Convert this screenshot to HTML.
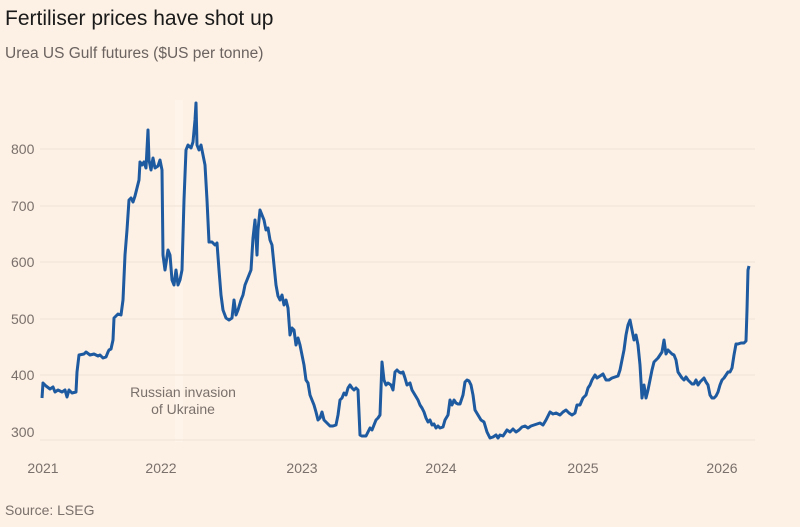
<!DOCTYPE html>
<html><head><style>
body{margin:0;background:#fdf0e4;}
svg{display:block;font-family:"Liberation Sans",sans-serif;}
</style></head><body>
<svg width="800" height="527" viewBox="0 0 800 527">
<rect width="800" height="527" fill="#fdf0e4"/>
<text x="5" y="25" font-size="21" fill="#1a1a1a">Fertiliser prices have shot up</text>
<text x="5" y="58" font-size="15.5" fill="#6b6360">Urea US Gulf futures ($US per tonne)</text>
<rect x="175" y="100" width="8" height="342" fill="#fff4ea"/>
<g stroke="#efe2d6" stroke-width="1">
<line x1="40" x2="755" y1="149" y2="149"/><line x1="40" x2="755" y1="206" y2="206"/>
<line x1="40" x2="755" y1="262" y2="262"/><line x1="40" x2="755" y1="319" y2="319"/>
<line x1="40" x2="755" y1="375" y2="375"/><line x1="40" x2="755" y1="440" y2="440"/>
</g>
<g font-size="14" fill="#7a716c">
<text x="11" y="154">800</text><text x="11" y="211">700</text><text x="11" y="267">600</text>
<text x="11" y="324">500</text><text x="11" y="380">400</text><text x="11" y="437">300</text>
<g text-anchor="middle">
<text x="43" y="473">2021</text><text x="161" y="473">2022</text><text x="302" y="473">2023</text>
<text x="441" y="473">2024</text><text x="583" y="473">2025</text><text x="722" y="473">2026</text>
<text x="183" y="397">Russian invasion</text><text x="183" y="414">of Ukraine</text>
</g>
<text x="5" y="515">Source: LSEG</text>
</g>
<polyline fill="none" stroke="#1d5aa0" stroke-width="3" stroke-linejoin="round" points="42,398 43,383 46,386 50,389 53,387 55,392 58,390 62,392 65,390 67,397 69,390 72,393 76,392 77,372 79,355 84,354 86,352 90,355 94,354 98,356 100,355 103,358 106,357 108,352 109,350 111,349 113,340 114,318 118,314 121,315 123,300 125,255 127,230 129,200 131,198 133,202 135,196 137,188 139,180 140,162 142,165 144,162 146,168 148,130 149,160 151,170 153,158 155,168 158,166 160,160 162,170 163,255 165,270 168,250 170,255 172,280 174,285 176,270 178,285 180,280 182,270 184,200 186,150 188,145 191,148 193,142 195,120 196,103 197,145 199,150 201,145 203,155 205,165 207,200 209,242 212,242 215,245 217,243 219,270 221,295 223,310 226,318 229,320 232,318 234,300 236,315 238,310 241,300 243,295 245,285 247,280 249,275 251,270 253,238 255,220 257,255 258,230 260,210 262,215 264,220 266,230 268,228 270,240 272,245 274,265 276,285 278,296 280,300 282,295 284,305 286,300 288,308 290,335 292,328 294,330 296,345 298,338 300,345 302,355 304,365 306,380 308,383 310,395 312,400 314,405 316,412 318,420 320,418 322,412 324,420 326,422 328,424 330,426 333,426 336,425 338,415 340,400 342,398 344,393 346,395 348,388 350,385 352,388 354,390 356,388 358,390 360,435 362,436 366,436 368,432 370,428 372,430 374,425 376,420 378,418 380,415 382,362 384,380 386,385 388,383 391,385 393,390 395,372 397,370 399,372 401,373 403,372 405,378 407,385 410,383 412,390 415,395 418,400 420,405 422,408 424,412 426,418 428,422 430,420 432,425 434,424 436,428 438,426 440,428 443,427 445,420 448,415 450,400 452,405 454,400 456,403 458,404 460,404 463,395 465,382 467,380 469,381 471,385 473,395 475,410 478,415 481,420 484,422 487,432 490,438 493,437 496,435 498,438 500,435 503,436 505,433 507,430 510,432 513,429 516,432 519,430 522,427 525,426 528,428 531,426 534,425 537,424 540,423 543,425 546,420 548,416 550,412 553,414 556,413 560,415 563,412 566,410 569,413 572,415 575,413 577,405 580,405 583,398 586,395 588,388 590,385 592,380 595,375 597,378 600,376 603,374 606,380 609,380 612,378 615,377 618,376 620,370 622,360 624,350 626,335 628,325 630,320 632,330 634,340 636,335 638,345 640,365 642,398 644,385 646,398 648,390 650,380 652,370 654,362 656,360 658,358 660,355 662,352 664,340 666,354 668,350 670,352 672,354 674,355 676,360 678,372 680,375 682,378 684,380 686,377 688,380 690,382 692,384 694,384 696,380 698,385 700,382 702,380 704,378 706,382 708,385 710,395 712,398 714,398 716,396 718,392 720,385 722,380 724,378 726,375 728,372 730,372 732,368 734,355 736,344 738,344 741,343 744,343 746,341 747,310 748,270 749,266"/>
</svg>
</body></html>
